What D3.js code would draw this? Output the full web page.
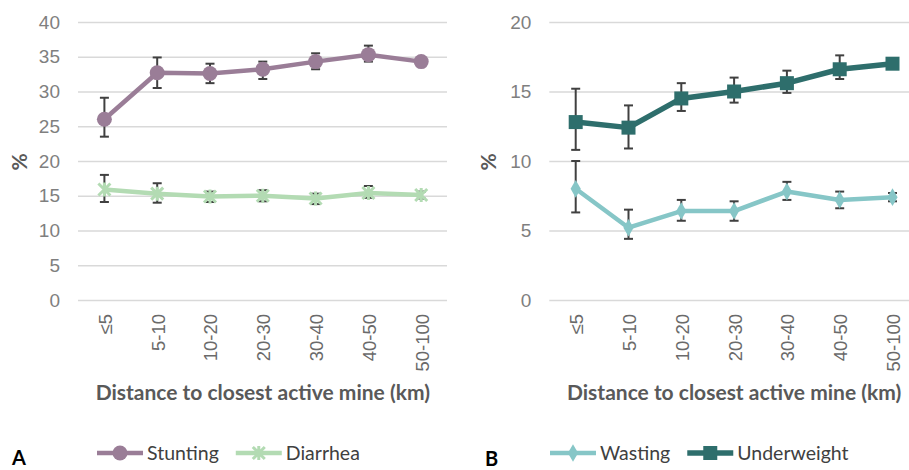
<!DOCTYPE html>
<html>
<head>
<meta charset="utf-8">
<script src="https://cdn.jsdelivr.net/npm/d3@7"></script>
<style>
  body { margin: 0; background: #fff; }
  svg { display: block; font-family: Lato, "DejaVu Sans", sans-serif; }
  .y-axis .domain, .x-axis .domain { display: none; }
  .y-axis line { stroke: #d9d9d9; stroke-width: 1.6; }
  .y-axis text { fill: #7f7f7f; font-size: 19px; }
  .x-axis text { fill: #6a6a6a; font-size: 18.5px; }
  .axis-label { fill: #595959; font-size: 21px; font-weight: bold; }
  .legend text { fill: #404040; font-size: 19.5px; }
</style>
</head>
<body>
<svg id="chart" width="909" height="470"></svg>
<script>
const categories = ['≤5', '5-10', '10-20', '20-30', '30-40', '40-50', '50-100'];

const stunting = [26.0, 32.7, 32.6, 33.2, 34.3, 35.3, 34.3];
const stuntingLow = [23.5, 30.5, 31.2, 31.8, 33.2, 34.3, 34.0];
const stuntingHigh = [29.1, 34.9, 34.0, 34.3, 35.5, 36.6, 34.6];

const diarrhea = [15.9, 15.3, 14.9, 15.0, 14.6, 15.4, 15.1];
const diarrheaLow = [14.1, 14.0, 14.1, 14.2, 13.8, 14.7, 14.6];
const diarrheaHigh = [18.0, 16.8, 15.6, 15.8, 15.3, 16.4, 15.6];

const wasting = [8.0, 5.2, 6.4, 6.4, 7.8, 7.2, 7.4];
const wastingLow = [6.3, 4.4, 5.7, 5.7, 7.2, 6.6, 7.1];
const wastingHigh = [10.0, 6.5, 7.2, 7.1, 8.5, 7.8, 7.7];

const underweight = [12.8, 12.4, 14.5, 15.0, 15.6, 16.6, 17.0];
const underweightLow = [10.8, 10.9, 13.6, 14.2, 14.9, 15.9, 16.7];
const underweightHigh = [15.2, 14.0, 15.6, 16.0, 16.5, 17.6, 17.3];

const ticksA = [0, 5, 10, 15, 20, 25, 30, 35, 40];
const ticksB = [0, 5, 10, 15, 20];

const xTitle = 'Distance to closest active mine (km)';

const toRows = (vals, lo, hi) => vals.map((v, i) => ({ cat: categories[i], v, lo: lo[i], hi: hi[i] }));

const panels = [
    {
        left: 78, plotWidth: 369.6, gridEnd: 447, yMax: 40, ticks: ticksA, letter: 'A', letterX: 12, letterY: 465,
        labelX: 20, legendX: 97,
        series: [
            { name: 'Stunting', rows: toRows(stunting, stuntingLow, stuntingHigh), color: '#9a7d97', width: 4.5, marker: 'circle' },
            { name: 'Diarrhea', rows: toRows(diarrhea, diarrheaLow, diarrheaHigh), color: '#b3dbb3', width: 4.5, marker: 'x' }
        ]
    },
    {
        left: 549.3, plotWidth: 369.6, gridEnd: 909, yMax: 20, ticks: ticksB, letter: 'B', letterX: 485, letterY: 466,
        labelX: 489, legendX: 550,
        series: [
            { name: 'Wasting', rows: toRows(wasting, wastingLow, wastingHigh), color: '#86c6c7', width: 4.5, marker: 'diamond' },
            { name: 'Underweight', rows: toRows(underweight, underweightLow, underweightHigh), color: '#2e6e6c', width: 5.5, marker: 'square' }
        ]
    }
];

const plotTop = 22, plotBottom = 300;

const drawMarker = (sel, type, color) => {
    if (type === 'circle') {
        sel.append('circle').attr('r', 7.5).attr('fill', color);
    } else if (type === 'square') {
        sel.append('rect').attr('x', -7).attr('y', -7).attr('width', 14).attr('height', 14).attr('fill', color);
    } else if (type === 'diamond') {
        sel.append('path').attr('d', d3.symbol(d3.symbolDiamond, 90)()).attr('fill', color);
    } else {
        sel.append('path')
            .attr('d', 'M-6,-6L6,6M-6,6L6,-6M0,-7L0,7')
            .attr('stroke', color).attr('stroke-width', 3).attr('fill', 'none');
    }
};

const drawPanel = (svg, p) => {
    const x = d3.scaleBand()
        .domain(categories)
        .range([p.left, p.left + p.plotWidth]);

    const y = d3.scaleLinear()
        .domain([0, p.yMax])
        .range([plotBottom, plotTop]);

    const g = svg.append('g');

    const yAxis = d3.axisLeft(y).tickValues(p.ticks).tickSize(-(p.gridEnd - p.left)).tickPadding(18);
    g.append('g')
        .attr('class', 'y-axis')
        .attr('transform', `translate(${p.left},0)`)
        .call(yAxis);

    const xAxis = d3.axisBottom(x).tickSize(0);
    g.append('g')
        .attr('class', 'x-axis')
        .attr('transform', `translate(0,${plotBottom})`)
        .call(xAxis);

    g.selectAll('.x-axis text')
        .attr('transform', 'rotate(-90)')
        .attr('x', -14)
        .attr('y', 1)
        .attr('dy', '0.35em')
        .attr('text-anchor', 'end');

    g.append('text')
        .attr('class', 'axis-label')
        .attr('x', p.left + p.plotWidth / 2)
        .attr('y', 400)
        .attr('text-anchor', 'middle')
        .text(xTitle);

    g.append('text')
        .attr('class', 'axis-label')
        .attr('transform', `translate(${p.labelX + 7},162) rotate(-90)`)
        .attr('text-anchor', 'middle')
        .text('%');

    const cx = d => x(d.cat) + x.bandwidth() / 2;

    // error bars first, then lines and markers on top
    p.series.forEach(s => {
        const eb = g.append('g').attr('class', 'errors')
            .selectAll('g').data(s.rows).join('g');
        eb.append('line')
            .attr('x1', cx).attr('x2', cx)
            .attr('y1', d => y(d.lo)).attr('y2', d => y(d.hi));
        eb.append('line')
            .attr('x1', d => cx(d) - 4.5).attr('x2', d => cx(d) + 4.5)
            .attr('y1', d => y(d.hi)).attr('y2', d => y(d.hi));
        eb.append('line')
            .attr('x1', d => cx(d) - 4.5).attr('x2', d => cx(d) + 4.5)
            .attr('y1', d => y(d.lo)).attr('y2', d => y(d.lo));
        eb.selectAll('line').attr('stroke', '#404040').attr('stroke-width', 2);
    });

    p.series.forEach(s => {
        const line = d3.line().x(cx).y(d => y(d.v));
        g.append('path')
            .datum(s.rows)
            .attr('fill', 'none')
            .attr('stroke', s.color)
            .attr('stroke-width', s.width)
            .attr('stroke-linejoin', 'round')
            .attr('d', line);

        g.append('g').selectAll('g').data(s.rows).join('g')
            .attr('transform', d => `translate(${cx(d)},${y(d.v)})`)
            .each(function () { drawMarker(d3.select(this), s.marker, s.color); });
    });

    // legend
    const legend = g.append('g').attr('class', 'legend');
    let lx = p.legendX;
    p.series.forEach(s => {
        const item = legend.append('g').attr('transform', `translate(${lx},453)`);
        item.append('line')
            .attr('x1', 0).attr('x2', 46)
            .attr('stroke', s.color).attr('stroke-width', s.width);
        drawMarker(item.append('g').attr('transform', 'translate(23,0)'), s.marker, s.color);
        const t = item.append('text')
            .attr('x', 50)
            .attr('dy', '0.35em')
            .text(s.name);
        lx += 50 + t.node().getComputedTextLength() + 17;
    });

    g.append('text')
        .attr('x', p.letterX)
        .attr('y', p.letterY)
        .attr('fill', '#000')
        .attr('font-size', 20)
        .attr('font-weight', 'bold')
        .text(p.letter);
};

const main = () => {
    const svg = d3.select('#chart');
    panels.forEach(p => drawPanel(svg, p));
};

window.onload = main;
</script>
</body>
</html>
